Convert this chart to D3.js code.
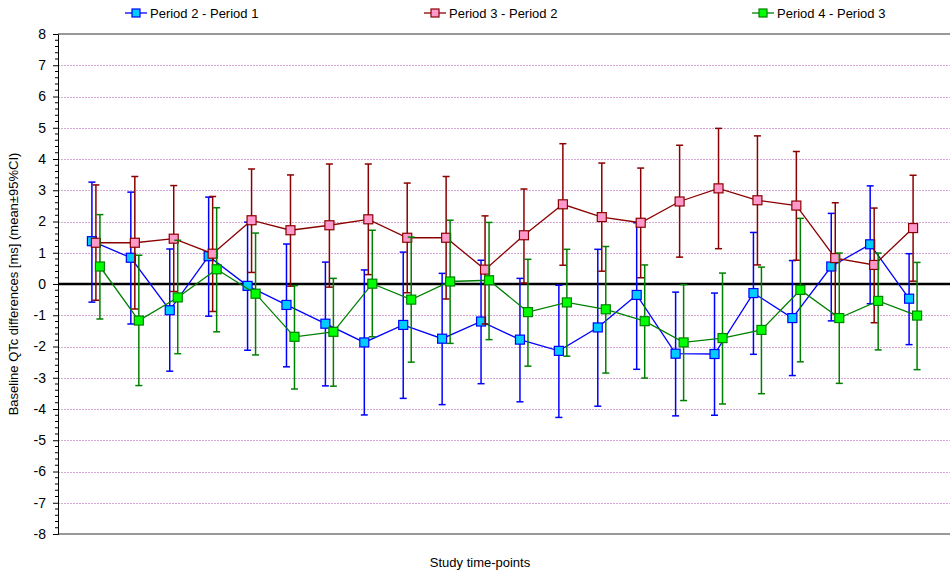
<!DOCTYPE html>
<html>
<head>
<meta charset="utf-8">
<script src="https://cdn.jsdelivr.net/npm/d3@7"></script>
<style>
  body { margin: 0; background: #fff; }
  text { font-family: "Liberation Sans", Arial, sans-serif; }
</style>
</head>
<body>
<div id="chart"></div>
<script>
// time-point index 1..22
var timePoints = d3.range(1, 23);

// Period 2 - Period 1
var p21Mean = [1.37, 0.84, -0.84, 0.89, -0.06, -0.67, -1.27, -1.87, -1.31, -1.75, -1.20,
               -1.78, -2.14, -1.39, -0.35, -2.23, -2.24, -0.29, -1.09, 0.56, 1.27, -0.47];
var p21Hi = [3.26, 2.94, 1.12, 2.78, 1.98, 1.28, 0.70, 0.45, 1.02, 0.34, 0.76,
             0.18, -0.04, 1.11, 1.96, -0.26, -0.29, 1.65, 0.75, 2.26, 3.14, 0.97];
var p21Lo = [-0.58, -1.28, -2.79, -1.03, -2.12, -2.65, -3.26, -4.19, -3.66, -3.86, -3.19,
             -3.77, -4.27, -3.91, -2.73, -4.22, -4.20, -2.25, -2.93, -1.18, -0.63, -1.94];

// Period 3 - Period 2
var p32Mean = [1.32, 1.32, 1.45, 0.97, 2.04, 1.72, 1.88, 2.07, 1.48, 1.48, 0.46,
               1.56, 2.55, 2.14, 1.96, 2.64, 3.06, 2.68, 2.51, 0.83, 0.61, 1.79];
var p32Hi = [3.17, 3.44, 3.15, 2.80, 3.68, 3.49, 3.84, 3.84, 3.23, 3.44, 2.18,
             3.04, 4.49, 3.87, 3.71, 4.44, 4.98, 4.74, 4.24, 2.60, 2.43, 3.48];
var p32Lo = [-0.52, -0.80, -0.24, -0.88, 0.37, -0.07, -0.10, 0.30, -0.28, -0.48, -1.28,
             0.03, 0.60, 0.41, 0.20, 0.86, 1.13, 0.61, 0.76, -0.95, -1.24, 0.09];

// Period 4 - Period 3
var p43Mean = [0.56, -1.17, -0.43, 0.47, -0.31, -1.69, -1.53, 0.01, -0.50, 0.08, 0.12,
               -0.90, -0.59, -0.81, -1.19, -1.87, -1.73, -1.47, -0.19, -1.09, -0.54, -1.01];
var p43Hi = [2.22, 0.92, 1.40, 2.44, 1.63, -0.05, 0.18, 1.72, 1.50, 2.04, 1.97,
             0.79, 1.11, 1.20, 0.61, -0.02, 0.35, 0.54, 2.10, 0.99, 0.99, 0.69];
var p43Lo = [-1.12, -3.25, -2.23, -1.53, -2.27, -3.36, -3.27, -1.69, -2.50, -1.90, -1.78,
             -2.63, -2.31, -2.85, -3.01, -3.73, -3.84, -3.51, -2.49, -3.18, -2.11, -2.74];

var yTicks = d3.range(-8, 9);

var series = [
  { name: "Period 2 - Period 1", mean: p21Mean, hi: p21Hi, lo: p21Lo,
    line: "#0000ff", fill: "#00ccff", edge: "#0000ff", shift: -4, legendX: 125 },
  { name: "Period 3 - Period 2", mean: p32Mean, hi: p32Hi, lo: p32Lo,
    line: "#8b0000", fill: "#ff99cc", edge: "#8b0000", shift: 0, legendX: 424 },
  { name: "Period 4 - Period 3", mean: p43Mean, hi: p43Hi, lo: p43Lo,
    line: "#008000", fill: "#00ff00", edge: "#008000", shift: 4, legendX: 752 }
];

var width = 950, height = 574;
var plotLeft = 58, plotRight = 953, plotTop = 34, plotBottom = 534;

var svg = d3.select("#chart").append("svg")
  .attr("width", width)
  .attr("height", height);

var x = d3.scaleLinear().domain([0, 23]).range([plotLeft, plotRight]);
var y = d3.scaleLinear().domain([-8, 8]).range([plotBottom, plotTop]);

// grid lines
svg.append("g").selectAll("line")
  .data(yTicks.filter(function (d) { return d !== 0 && d !== 8 && d !== -8; }))
  .enter().append("line")
  .attr("x1", plotLeft).attr("x2", width)
  .attr("y1", function (d) { return Math.round(y(d)) + 0.5; })
  .attr("y2", function (d) { return Math.round(y(d)) + 0.5; })
  .attr("stroke", "#d9a6d9")
  .attr("stroke-width", 1)
  .attr("stroke-dasharray", "2,1");

// frame top/bottom
svg.append("line").attr("x1", plotLeft).attr("x2", width)
  .attr("y1", y(8)).attr("y2", y(8))
  .attr("stroke", "#333").attr("stroke-width", 1.2);
svg.append("line").attr("x1", plotLeft).attr("x2", width)
  .attr("y1", y(-8)).attr("y2", y(-8))
  .attr("stroke", "#333").attr("stroke-width", 1.2);

// y axis
var yAxis = d3.axisLeft(y).tickValues(yTicks).tickSize(5).tickPadding(7)
  .tickFormat(function (d) { return String(d); });
var gy = svg.append("g").attr("transform", "translate(" + plotLeft + ",0)").call(yAxis);
gy.select(".domain").attr("stroke", "#000");
gy.selectAll(".tick line").attr("stroke", "#000");
gy.selectAll("text").attr("font-size", 14).attr("fill", "#000")
  .style("font-family", "'Liberation Sans', Arial, sans-serif");

// minor ticks
var minor = d3.range(-8, 8.001, 0.2).filter(function (d) {
  return Math.abs(d - Math.round(d)) > 0.01;
});
svg.append("g").selectAll("line").data(minor).enter().append("line")
  .attr("x1", plotLeft - 3).attr("x2", plotLeft)
  .attr("y1", function (d) { return y(d); })
  .attr("y2", function (d) { return y(d); })
  .attr("stroke", "#000");

// zero line
svg.append("line").attr("x1", plotLeft).attr("x2", width)
  .attr("y1", y(0)).attr("y2", y(0))
  .attr("stroke", "#000").attr("stroke-width", 2.5);

// axis titles
svg.append("text")
  .attr("transform", "translate(18," + y(0) + ") rotate(-90)")
  .attr("text-anchor", "middle")
  .attr("font-size", 13)
  .text("Baseline QTc differences [ms] (mean\u00b195%CI)");

svg.append("text")
  .attr("x", 480).attr("y", 567)
  .attr("text-anchor", "middle")
  .attr("font-size", 13)
  .text("Study time-points");

// series
series.forEach(function (s) {
  var g = svg.append("g");
  var px = function (i) { return x(timePoints[i]) + s.shift - 1; };

  // error bars
  var bars = g.selectAll(".bar").data(s.mean).enter().append("g");
  bars.append("line")
    .attr("x1", function (d, i) { return px(i); })
    .attr("x2", function (d, i) { return px(i); })
    .attr("y1", function (d, i) { return y(s.hi[i]); })
    .attr("y2", function (d, i) { return y(s.lo[i]); })
    .attr("stroke", s.line).attr("stroke-width", 1.5);
  [s.hi, s.lo].forEach(function (arr) {
    bars.append("line")
      .attr("x1", function (d, i) { return px(i) - 3.5; })
      .attr("x2", function (d, i) { return px(i) + 3.5; })
      .attr("y1", function (d, i) { return y(arr[i]); })
      .attr("y2", function (d, i) { return y(arr[i]); })
      .attr("stroke", s.line).attr("stroke-width", 1.5);
  });

  // connecting line
  var line = d3.line()
    .x(function (d, i) { return px(i); })
    .y(function (d) { return y(d); });
  g.append("path").datum(s.mean)
    .attr("d", line)
    .attr("fill", "none")
    .attr("stroke", s.line)
    .attr("stroke-width", 1.3);

  // markers
  g.selectAll("rect").data(s.mean).enter().append("rect")
    .attr("x", function (d, i) { return px(i) - 4.5; })
    .attr("y", function (d) { return y(d) - 4.5; })
    .attr("width", 9).attr("height", 9)
    .attr("fill", s.fill)
    .attr("stroke", s.edge)
    .attr("stroke-width", 1.2);

  // legend
  var lg = svg.append("g").attr("transform", "translate(" + s.legendX + ",13)");
  lg.append("line").attr("x1", 0).attr("x2", 22).attr("y1", 0).attr("y2", 0)
    .attr("stroke", s.line).attr("stroke-width", 1.3);
  lg.append("rect").attr("x", 7).attr("y", -4).attr("width", 8).attr("height", 8)
    .attr("fill", s.fill).attr("stroke", s.edge).attr("stroke-width", 1.2);
  lg.append("text").attr("x", 25).attr("y", 4.5)
    .attr("font-size", 13)
    .text(s.name);
});
</script>
</body>
</html>
